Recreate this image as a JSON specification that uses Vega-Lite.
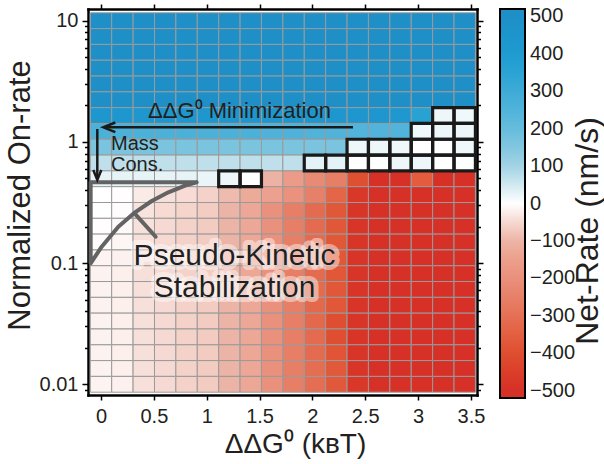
{
"$schema":"https://vega.github.io/schema/vega-lite/v6.json",
"width":389,"height":386,
"autosize":{"type":"none"},
"padding":{"left":88,"top":9,"right":127,"bottom":69},
"background":"white",
"config":{"view":{"stroke":null},"font":"Liberation Sans",
"axis":{"domainColor":"#000000","domainWidth":2.5,"domainCap":"square","tickColor":"#000000","tickWidth":1.5,"labelFontSize":20,"labelColor":"#231f20","titleFontWeight":"normal","titleColor":"#231f20","grid":false,"labelFont":"Liberation Sans","titleFont":"Liberation Sans","labelFlush":false,"labelOverlap":false},
"text":{"font":"Liberation Sans","color":"#231f20"}},
"datasets":{
"cells":[
{"x":0,"y":10,"v":500},{"x":0.2024,"y":10,"v":500},{"x":0.4048,"y":10,"v":500},{"x":0.6072,"y":10,"v":500},{"x":0.8096,"y":10,"v":500},{"x":1.012,"y":10,"v":500},{"x":1.2144,"y":10,"v":500},{"x":1.4168,"y":10,"v":500},{"x":1.6192,"y":10,"v":500},{"x":1.8216,"y":10,"v":500},{"x":2.024,"y":10,"v":500},{"x":2.2264,"y":10,"v":500},{"x":2.4288,"y":10,"v":500},{"x":2.6312,"y":10,"v":500},{"x":2.8336,"y":10,"v":500},{"x":3.036,"y":10,"v":500},{"x":3.2384,"y":10,"v":500},{"x":3.4408,"y":10,"v":500},
{"x":0,"y":7.406,"v":500},{"x":0.2024,"y":7.406,"v":500},{"x":0.4048,"y":7.406,"v":500},{"x":0.6072,"y":7.406,"v":500},{"x":0.8096,"y":7.406,"v":500},{"x":1.012,"y":7.406,"v":500},{"x":1.2144,"y":7.406,"v":500},{"x":1.4168,"y":7.406,"v":500},{"x":1.6192,"y":7.406,"v":500},{"x":1.8216,"y":7.406,"v":500},{"x":2.024,"y":7.406,"v":500},{"x":2.2264,"y":7.406,"v":500},{"x":2.4288,"y":7.406,"v":500},{"x":2.6312,"y":7.406,"v":500},{"x":2.8336,"y":7.406,"v":500},{"x":3.036,"y":7.406,"v":500},{"x":3.2384,"y":7.406,"v":500},{"x":3.4408,"y":7.406,"v":500},
{"x":0,"y":5.484,"v":500},{"x":0.2024,"y":5.484,"v":500},{"x":0.4048,"y":5.484,"v":500},{"x":0.6072,"y":5.484,"v":500},{"x":0.8096,"y":5.484,"v":500},{"x":1.012,"y":5.484,"v":500},{"x":1.2144,"y":5.484,"v":500},{"x":1.4168,"y":5.484,"v":500},{"x":1.6192,"y":5.484,"v":500},{"x":1.8216,"y":5.484,"v":500},{"x":2.024,"y":5.484,"v":500},{"x":2.2264,"y":5.484,"v":500},{"x":2.4288,"y":5.484,"v":500},{"x":2.6312,"y":5.484,"v":500},{"x":2.8336,"y":5.484,"v":500},{"x":3.036,"y":5.484,"v":500},{"x":3.2384,"y":5.484,"v":500},{"x":3.4408,"y":5.484,"v":500},
{"x":0,"y":4.062,"v":500},{"x":0.2024,"y":4.062,"v":500},{"x":0.4048,"y":4.062,"v":500},{"x":0.6072,"y":4.062,"v":500},{"x":0.8096,"y":4.062,"v":500},{"x":1.012,"y":4.062,"v":500},{"x":1.2144,"y":4.062,"v":500},{"x":1.4168,"y":4.062,"v":500},{"x":1.6192,"y":4.062,"v":500},{"x":1.8216,"y":4.062,"v":500},{"x":2.024,"y":4.062,"v":500},{"x":2.2264,"y":4.062,"v":500},{"x":2.4288,"y":4.062,"v":500},{"x":2.6312,"y":4.062,"v":500},{"x":2.8336,"y":4.062,"v":500},{"x":3.036,"y":4.062,"v":500},{"x":3.2384,"y":4.062,"v":500},{"x":3.4408,"y":4.062,"v":500},
{"x":0,"y":3.008,"v":500},{"x":0.2024,"y":3.008,"v":500},{"x":0.4048,"y":3.008,"v":500},{"x":0.6072,"y":3.008,"v":500},{"x":0.8096,"y":3.008,"v":500},{"x":1.012,"y":3.008,"v":500},{"x":1.2144,"y":3.008,"v":500},{"x":1.4168,"y":3.008,"v":500},{"x":1.6192,"y":3.008,"v":500},{"x":1.8216,"y":3.008,"v":500},{"x":2.024,"y":3.008,"v":500},{"x":2.2264,"y":3.008,"v":500},{"x":2.4288,"y":3.008,"v":500},{"x":2.6312,"y":3.008,"v":500},{"x":2.8336,"y":3.008,"v":500},{"x":3.036,"y":3.008,"v":500},{"x":3.2384,"y":3.008,"v":500},{"x":3.4408,"y":3.008,"v":500},
{"x":0,"y":2.228,"v":500},{"x":0.2024,"y":2.228,"v":500},{"x":0.4048,"y":2.228,"v":500},{"x":0.6072,"y":2.228,"v":500},{"x":0.8096,"y":2.228,"v":500},{"x":1.012,"y":2.228,"v":500},{"x":1.2144,"y":2.228,"v":500},{"x":1.4168,"y":2.228,"v":500},{"x":1.6192,"y":2.228,"v":500},{"x":1.8216,"y":2.228,"v":500},{"x":2.024,"y":2.228,"v":500},{"x":2.2264,"y":2.228,"v":500},{"x":2.4288,"y":2.228,"v":500},{"x":2.6312,"y":2.228,"v":500},{"x":2.8336,"y":2.228,"v":500},{"x":3.036,"y":2.228,"v":500},{"x":3.2384,"y":2.228,"v":500},{"x":3.4408,"y":2.228,"v":500},
{"x":0,"y":1.65,"v":430},{"x":0.2024,"y":1.65,"v":430},{"x":0.4048,"y":1.65,"v":430},{"x":0.6072,"y":1.65,"v":430},{"x":0.8096,"y":1.65,"v":430},{"x":1.012,"y":1.65,"v":430},{"x":1.2144,"y":1.65,"v":430},{"x":1.4168,"y":1.65,"v":430},{"x":1.6192,"y":1.65,"v":430},{"x":1.8216,"y":1.65,"v":430},{"x":2.024,"y":1.65,"v":430},{"x":2.2264,"y":1.65,"v":430},{"x":2.4288,"y":1.65,"v":430},{"x":2.6312,"y":1.65,"v":430},{"x":2.8336,"y":1.65,"v":425},{"x":3.036,"y":1.65,"v":360},{"x":3.2384,"y":1.65,"v":18,"b":1},{"x":3.4408,"y":1.65,"v":16,"b":1},
{"x":0,"y":1.222,"v":265},{"x":0.2024,"y":1.222,"v":265},{"x":0.4048,"y":1.222,"v":265},{"x":0.6072,"y":1.222,"v":265},{"x":0.8096,"y":1.222,"v":265},{"x":1.012,"y":1.222,"v":265},{"x":1.2144,"y":1.222,"v":265},{"x":1.4168,"y":1.222,"v":262},{"x":1.6192,"y":1.222,"v":255},{"x":1.8216,"y":1.222,"v":255},{"x":2.024,"y":1.222,"v":252},{"x":2.2264,"y":1.222,"v":250},{"x":2.4288,"y":1.222,"v":245},{"x":2.6312,"y":1.222,"v":245},{"x":2.8336,"y":1.222,"v":245},{"x":3.036,"y":1.222,"v":16,"b":1},{"x":3.2384,"y":1.222,"v":18,"b":1},{"x":3.4408,"y":1.222,"v":18,"b":1},
{"x":0,"y":0.9047,"v":165},{"x":0.2024,"y":0.9047,"v":165},{"x":0.4048,"y":0.9047,"v":165},{"x":0.6072,"y":0.9047,"v":165},{"x":0.8096,"y":0.9047,"v":165},{"x":1.012,"y":0.9047,"v":165},{"x":1.2144,"y":0.9047,"v":165},{"x":1.4168,"y":0.9047,"v":165},{"x":1.6192,"y":0.9047,"v":165},{"x":1.8216,"y":0.9047,"v":165},{"x":2.024,"y":0.9047,"v":165},{"x":2.2264,"y":0.9047,"v":165},{"x":2.4288,"y":0.9047,"v":18,"b":1},{"x":2.6312,"y":0.9047,"v":18,"b":1},{"x":2.8336,"y":0.9047,"v":16,"b":1},{"x":3.036,"y":0.9047,"v":0,"b":1},{"x":3.2384,"y":0.9047,"v":0,"b":1},{"x":3.4408,"y":0.9047,"v":16,"b":1},
{"x":0,"y":0.67,"v":68},{"x":0.2024,"y":0.67,"v":68},{"x":0.4048,"y":0.67,"v":68},{"x":0.6072,"y":0.67,"v":68},{"x":0.8096,"y":0.67,"v":68},{"x":1.012,"y":0.67,"v":68},{"x":1.2144,"y":0.67,"v":68},{"x":1.4168,"y":0.67,"v":68},{"x":1.6192,"y":0.67,"v":68},{"x":1.8216,"y":0.67,"v":68},{"x":2.024,"y":0.67,"v":27,"b":1},{"x":2.2264,"y":0.67,"v":27,"b":1},{"x":2.4288,"y":0.67,"v":0,"b":1},{"x":2.6312,"y":0.67,"v":0,"b":1},{"x":2.8336,"y":0.67,"v":18,"b":1},{"x":3.036,"y":0.67,"v":18,"b":1},{"x":3.2384,"y":0.67,"v":0,"b":1},{"x":3.4408,"y":0.67,"v":0,"b":1},
{"x":0,"y":0.4962,"v":25},{"x":0.2024,"y":0.4962,"v":25},{"x":0.4048,"y":0.4962,"v":25},{"x":0.6072,"y":0.4962,"v":25},{"x":0.8096,"y":0.4962,"v":25},{"x":1.012,"y":0.4962,"v":22},{"x":1.2144,"y":0.4962,"v":18,"b":1},{"x":1.4168,"y":0.4962,"v":0,"b":1},{"x":1.6192,"y":0.4962,"v":-102},{"x":1.8216,"y":0.4962,"v":-163},{"x":2.024,"y":0.4962,"v":-219},{"x":2.2264,"y":0.4962,"v":-256},{"x":2.4288,"y":0.4962,"v":-397},{"x":2.6312,"y":0.4962,"v":-495},{"x":2.8336,"y":0.4962,"v":-495},{"x":3.036,"y":0.4962,"v":-359},{"x":3.2384,"y":0.4962,"v":-500},{"x":3.4408,"y":0.4962,"v":-500},
{"x":0,"y":0.3675,"v":0},{"x":0.2024,"y":0.3675,"v":-2},{"x":0.4048,"y":0.3675,"v":-22},{"x":0.6072,"y":0.3675,"v":-37},{"x":0.8096,"y":0.3675,"v":-45},{"x":1.012,"y":0.3675,"v":-58},{"x":1.2144,"y":0.3675,"v":-90},{"x":1.4168,"y":0.3675,"v":-125},{"x":1.6192,"y":0.3675,"v":-148},{"x":1.8216,"y":0.3675,"v":-195},{"x":2.024,"y":0.3675,"v":-250},{"x":2.2264,"y":0.3675,"v":-332},{"x":2.4288,"y":0.3675,"v":-472},{"x":2.6312,"y":0.3675,"v":-500},{"x":2.8336,"y":0.3675,"v":-500},{"x":3.036,"y":0.3675,"v":-500},{"x":3.2384,"y":0.3675,"v":-500},{"x":3.4408,"y":0.3675,"v":-500},
{"x":0,"y":0.2721,"v":0},{"x":0.2024,"y":0.2721,"v":-3},{"x":0.4048,"y":0.2721,"v":-33},{"x":0.6072,"y":0.2721,"v":-46},{"x":0.8096,"y":0.2721,"v":-56},{"x":1.012,"y":0.2721,"v":-67},{"x":1.2144,"y":0.2721,"v":-100},{"x":1.4168,"y":0.2721,"v":-131},{"x":1.6192,"y":0.2721,"v":-197},{"x":1.8216,"y":0.2721,"v":-253},{"x":2.024,"y":0.2721,"v":-315},{"x":2.2264,"y":0.2721,"v":-371},{"x":2.4288,"y":0.2721,"v":-483},{"x":2.6312,"y":0.2721,"v":-500},{"x":2.8336,"y":0.2721,"v":-500},{"x":3.036,"y":0.2721,"v":-500},{"x":3.2384,"y":0.2721,"v":-500},{"x":3.4408,"y":0.2721,"v":-500},
{"x":0,"y":0.2015,"v":-2},{"x":0.2024,"y":0.2015,"v":-6},{"x":0.4048,"y":0.2015,"v":-36},{"x":0.6072,"y":0.2015,"v":-48},{"x":0.8096,"y":0.2015,"v":-58},{"x":1.012,"y":0.2015,"v":-68},{"x":1.2144,"y":0.2015,"v":-100},{"x":1.4168,"y":0.2015,"v":-131},{"x":1.6192,"y":0.2015,"v":-197},{"x":1.8216,"y":0.2015,"v":-253},{"x":2.024,"y":0.2015,"v":-315},{"x":2.2264,"y":0.2015,"v":-371},{"x":2.4288,"y":0.2015,"v":-483},{"x":2.6312,"y":0.2015,"v":-500},{"x":2.8336,"y":0.2015,"v":-500},{"x":3.036,"y":0.2015,"v":-500},{"x":3.2384,"y":0.2015,"v":-500},{"x":3.4408,"y":0.2015,"v":-500},
{"x":0,"y":0.1493,"v":-4},{"x":0.2024,"y":0.1493,"v":-10},{"x":0.4048,"y":0.1493,"v":-37},{"x":0.6072,"y":0.1493,"v":-48},{"x":0.8096,"y":0.1493,"v":-58},{"x":1.012,"y":0.1493,"v":-68},{"x":1.2144,"y":0.1493,"v":-100},{"x":1.4168,"y":0.1493,"v":-131},{"x":1.6192,"y":0.1493,"v":-197},{"x":1.8216,"y":0.1493,"v":-253},{"x":2.024,"y":0.1493,"v":-315},{"x":2.2264,"y":0.1493,"v":-371},{"x":2.4288,"y":0.1493,"v":-483},{"x":2.6312,"y":0.1493,"v":-500},{"x":2.8336,"y":0.1493,"v":-500},{"x":3.036,"y":0.1493,"v":-500},{"x":3.2384,"y":0.1493,"v":-500},{"x":3.4408,"y":0.1493,"v":-500},
{"x":0,"y":0.1105,"v":-12},{"x":0.2024,"y":0.1105,"v":-15},{"x":0.4048,"y":0.1105,"v":-37},{"x":0.6072,"y":0.1105,"v":-48},{"x":0.8096,"y":0.1105,"v":-58},{"x":1.012,"y":0.1105,"v":-68},{"x":1.2144,"y":0.1105,"v":-100},{"x":1.4168,"y":0.1105,"v":-131},{"x":1.6192,"y":0.1105,"v":-197},{"x":1.8216,"y":0.1105,"v":-253},{"x":2.024,"y":0.1105,"v":-315},{"x":2.2264,"y":0.1105,"v":-371},{"x":2.4288,"y":0.1105,"v":-483},{"x":2.6312,"y":0.1105,"v":-500},{"x":2.8336,"y":0.1105,"v":-500},{"x":3.036,"y":0.1105,"v":-500},{"x":3.2384,"y":0.1105,"v":-500},{"x":3.4408,"y":0.1105,"v":-500},
{"x":0,"y":0.08186,"v":-14},{"x":0.2024,"y":0.08186,"v":-17},{"x":0.4048,"y":0.08186,"v":-37},{"x":0.6072,"y":0.08186,"v":-48},{"x":0.8096,"y":0.08186,"v":-58},{"x":1.012,"y":0.08186,"v":-68},{"x":1.2144,"y":0.08186,"v":-100},{"x":1.4168,"y":0.08186,"v":-131},{"x":1.6192,"y":0.08186,"v":-197},{"x":1.8216,"y":0.08186,"v":-253},{"x":2.024,"y":0.08186,"v":-315},{"x":2.2264,"y":0.08186,"v":-375},{"x":2.4288,"y":0.08186,"v":-483},{"x":2.6312,"y":0.08186,"v":-500},{"x":2.8336,"y":0.08186,"v":-500},{"x":3.036,"y":0.08186,"v":-500},{"x":3.2384,"y":0.08186,"v":-500},{"x":3.4408,"y":0.08186,"v":-500},
{"x":0,"y":0.06062,"v":-14},{"x":0.2024,"y":0.06062,"v":-17},{"x":0.4048,"y":0.06062,"v":-37},{"x":0.6072,"y":0.06062,"v":-48},{"x":0.8096,"y":0.06062,"v":-58},{"x":1.012,"y":0.06062,"v":-68},{"x":1.2144,"y":0.06062,"v":-100},{"x":1.4168,"y":0.06062,"v":-131},{"x":1.6192,"y":0.06062,"v":-197},{"x":1.8216,"y":0.06062,"v":-253},{"x":2.024,"y":0.06062,"v":-315},{"x":2.2264,"y":0.06062,"v":-375},{"x":2.4288,"y":0.06062,"v":-483},{"x":2.6312,"y":0.06062,"v":-500},{"x":2.8336,"y":0.06062,"v":-500},{"x":3.036,"y":0.06062,"v":-500},{"x":3.2384,"y":0.06062,"v":-500},{"x":3.4408,"y":0.06062,"v":-500},
{"x":0,"y":0.04489,"v":-14},{"x":0.2024,"y":0.04489,"v":-17},{"x":0.4048,"y":0.04489,"v":-37},{"x":0.6072,"y":0.04489,"v":-48},{"x":0.8096,"y":0.04489,"v":-58},{"x":1.012,"y":0.04489,"v":-68},{"x":1.2144,"y":0.04489,"v":-100},{"x":1.4168,"y":0.04489,"v":-131},{"x":1.6192,"y":0.04489,"v":-197},{"x":1.8216,"y":0.04489,"v":-253},{"x":2.024,"y":0.04489,"v":-322},{"x":2.2264,"y":0.04489,"v":-375},{"x":2.4288,"y":0.04489,"v":-483},{"x":2.6312,"y":0.04489,"v":-500},{"x":2.8336,"y":0.04489,"v":-500},{"x":3.036,"y":0.04489,"v":-500},{"x":3.2384,"y":0.04489,"v":-500},{"x":3.4408,"y":0.04489,"v":-500},
{"x":0,"y":0.03325,"v":-14},{"x":0.2024,"y":0.03325,"v":-17},{"x":0.4048,"y":0.03325,"v":-37},{"x":0.6072,"y":0.03325,"v":-48},{"x":0.8096,"y":0.03325,"v":-58},{"x":1.012,"y":0.03325,"v":-68},{"x":1.2144,"y":0.03325,"v":-100},{"x":1.4168,"y":0.03325,"v":-131},{"x":1.6192,"y":0.03325,"v":-197},{"x":1.8216,"y":0.03325,"v":-253},{"x":2.024,"y":0.03325,"v":-325},{"x":2.2264,"y":0.03325,"v":-400},{"x":2.4288,"y":0.03325,"v":-483},{"x":2.6312,"y":0.03325,"v":-500},{"x":2.8336,"y":0.03325,"v":-500},{"x":3.036,"y":0.03325,"v":-500},{"x":3.2384,"y":0.03325,"v":-500},{"x":3.4408,"y":0.03325,"v":-500},
{"x":0,"y":0.02462,"v":-14},{"x":0.2024,"y":0.02462,"v":-17},{"x":0.4048,"y":0.02462,"v":-37},{"x":0.6072,"y":0.02462,"v":-48},{"x":0.8096,"y":0.02462,"v":-58},{"x":1.012,"y":0.02462,"v":-68},{"x":1.2144,"y":0.02462,"v":-100},{"x":1.4168,"y":0.02462,"v":-131},{"x":1.6192,"y":0.02462,"v":-197},{"x":1.8216,"y":0.02462,"v":-253},{"x":2.024,"y":0.02462,"v":-315},{"x":2.2264,"y":0.02462,"v":-400},{"x":2.4288,"y":0.02462,"v":-483},{"x":2.6312,"y":0.02462,"v":-500},{"x":2.8336,"y":0.02462,"v":-500},{"x":3.036,"y":0.02462,"v":-500},{"x":3.2384,"y":0.02462,"v":-500},{"x":3.4408,"y":0.02462,"v":-500},
{"x":0,"y":0.01823,"v":-14},{"x":0.2024,"y":0.01823,"v":-17},{"x":0.4048,"y":0.01823,"v":-37},{"x":0.6072,"y":0.01823,"v":-48},{"x":0.8096,"y":0.01823,"v":-58},{"x":1.012,"y":0.01823,"v":-68},{"x":1.2144,"y":0.01823,"v":-100},{"x":1.4168,"y":0.01823,"v":-131},{"x":1.6192,"y":0.01823,"v":-197},{"x":1.8216,"y":0.01823,"v":-253},{"x":2.024,"y":0.01823,"v":-315},{"x":2.2264,"y":0.01823,"v":-380},{"x":2.4288,"y":0.01823,"v":-483},{"x":2.6312,"y":0.01823,"v":-500},{"x":2.8336,"y":0.01823,"v":-500},{"x":3.036,"y":0.01823,"v":-500},{"x":3.2384,"y":0.01823,"v":-500},{"x":3.4408,"y":0.01823,"v":-500},
{"x":0,"y":0.0135,"v":-14},{"x":0.2024,"y":0.0135,"v":-17},{"x":0.4048,"y":0.0135,"v":-37},{"x":0.6072,"y":0.0135,"v":-48},{"x":0.8096,"y":0.0135,"v":-58},{"x":1.012,"y":0.0135,"v":-68},{"x":1.2144,"y":0.0135,"v":-100},{"x":1.4168,"y":0.0135,"v":-131},{"x":1.6192,"y":0.0135,"v":-197},{"x":1.8216,"y":0.0135,"v":-253},{"x":2.024,"y":0.0135,"v":-310},{"x":2.2264,"y":0.0135,"v":-370},{"x":2.4288,"y":0.0135,"v":-483},{"x":2.6312,"y":0.0135,"v":-500},{"x":2.8336,"y":0.0135,"v":-500},{"x":3.036,"y":0.0135,"v":-500},{"x":3.2384,"y":0.0135,"v":-500},{"x":3.4408,"y":0.0135,"v":-500},
{"x":0,"y":0.01,"v":-12},{"x":0.2024,"y":0.01,"v":-15},{"x":0.4048,"y":0.01,"v":-37},{"x":0.6072,"y":0.01,"v":-48},{"x":0.8096,"y":0.01,"v":-58},{"x":1.012,"y":0.01,"v":-68},{"x":1.2144,"y":0.01,"v":-100},{"x":1.4168,"y":0.01,"v":-131},{"x":1.6192,"y":0.01,"v":-197},{"x":1.8216,"y":0.01,"v":-253},{"x":2.024,"y":0.01,"v":-310},{"x":2.2264,"y":0.01,"v":-370},{"x":2.4288,"y":0.01,"v":-475},{"x":2.6312,"y":0.01,"v":-500},{"x":2.8336,"y":0.01,"v":-500},{"x":3.036,"y":0.01,"v":-500},{"x":3.2384,"y":0.01,"v":-500},{"x":3.4408,"y":0.01,"v":-500}
],
"lines":[
{"g":"loop","k":0,"x":0.905,"y":0.4642},{"g":"loop","k":1,"x":-0.098,"y":0.4642},{"g":"loop","k":2,"x":-0.098,"y":0.0996},{"g":"loop","k":3,"x":0.0066,"y":0.1366},{"g":"loop","k":4,"x":0.164,"y":0.1997},{"g":"loop","k":5,"x":0.322,"y":0.2625},{"g":"loop","k":6,"x":0.48,"y":0.3254},{"g":"loop","k":7,"x":0.637,"y":0.3838},{"g":"loop","k":8,"x":0.795,"y":0.4351},{"g":"loop","k":9,"x":0.905,"y":0.4642},
{"g":"branch","k":0,"x":0.322,"y":0.255},{"g":"branch","k":1,"x":0.517,"y":0.165},
{"g":"h","k":0,"x":2.384,"y":1.32},{"g":"h","k":1,"x":0.03,"y":1.32},
{"g":"v","k":0,"x":-0.035,"y":1.278},{"g":"v","k":1,"x":-0.035,"y":0.5}
],
"one":[{"id":1}]},
"resolve":{"axis":{"x":"independent","y":"independent"}},
"layer":[
{"data":{"name":"cells"},
 "mark":{"type":"point","shape":"M-1,-0.7391L1,-0.7391L1,0.7391L-1,0.7391Z","size":457.5,"filled":true,"opacity":1,"stroke":"#9a9a9a","strokeWidth":1},
 "encoding":{
  "x":{"field":"x","type":"quantitative","scale":{"domain":[-0.123,3.557],"nice":false,"zero":false},
   "axis":{"orient":"bottom","values":[0,0.5,1,1.5,2,2.5,3,3.5],"format":"~g","tickSize":5,"labelPadding":6,"title":"ΔΔG⁰ (kʙT)","titleFontSize":28,"titleX":207,"titleY":57,"titleBaseline":"alphabetic","titleAlign":"center"}},
  "y":{"field":"y","type":"quantitative","scale":{"type":"log","domain":[0.00816,12.49],"nice":false},
   "axis":{"orient":"left","values":[0.01,0.1,1,10],"format":"~g","tickSize":6,"labelPadding":4,"title":"Normalized On-rate","titleFontSize":31,"titleAngle":270,"titleX":-59,"titleY":186,"titleBaseline":"alphabetic","titleAlign":"center"}},
  "color":{"field":"v","type":"quantitative",
   "scale":{"domain":[-519,-500,-450,-400,-350,-300,-250,-200,-150,-100,-75,-50,-25,0,25,50,75,100,150,200,250,300,350,400,450,500,519],
    "range":["#d63027","#d63027","#db3e29","#df4e30","#e35f40","#e57055","#e78068","#ea907c","#ec9f8c","#ecb4a6","#f1c6bb","#f6d8d0","#fae8e3","#ffffff","#e6f4f8","#d0e9f1","#b8dde9","#a2d3e5","#82c7e0","#66bcdc","#50b3da","#3eabd7","#2aa3d4","#1f9bd0","#1c95cc","#1f8fc8","#1f8fc8"],"interpolate":"rgb"},
   "legend":{"orient":"right","offset":16,"padding":0,"direction":"vertical","gradientLength":389,"gradientThickness":25,"gradientStrokeColor":"#000000","gradientStrokeWidth":2,"values":[500,400,300,200,100,0,-100,-200,-300,-400,-500],"labelFontSize":20,"labelColor":"#231f20","labelOffset":5,"labelOverlap":false,"title":"Net-Rate (nm/s)","titleOrient":"right","titleFontSize":32,"titleFontWeight":"normal","titleColor":"#231f20","titleLimit":500,"titleAnchor":"middle","titlePadding":8,"encoding":{"title":{"angle":{"value":270},"dx":{"value":-27},"dy":{"value":22}}}}}
 }},
{"data":{"name":"cells"},"transform":[{"filter":"datum.b === 1"}],
 "mark":{"type":"point","shape":"M-1,-0.7391L1,-0.7391L1,0.7391L-1,0.7391Z","size":457.5,"filled":false,"opacity":1,"stroke":"#1a1a1a","strokeWidth":3.2},
 "encoding":{
  "x":{"field":"x","type":"quantitative","scale":{"domain":[-0.123,3.557],"nice":false,"zero":false},
   "axis":{"orient":"top","values":[0,0.5,1,1.5,2,2.5,3,3.5],"labels":false,"tickSize":5,"title":null}},
  "y":{"field":"y","type":"quantitative","scale":{"type":"log","domain":[0.00816,12.49],"nice":false},
   "axis":{"orient":"right","values":[0.01,0.1,1,10],"labels":false,"tickSize":6,"title":null}}
 }},
{"data":{"name":"lines"},"transform":[{"filter":"datum.g === 'loop' || datum.g === 'branch'"}],
 "mark":{"type":"line","color":"#636363","strokeWidth":4,"strokeCap":"round","strokeJoin":"round"},
 "encoding":{
  "x":{"field":"x","type":"quantitative","scale":{"domain":[-0.123,3.557],"nice":false,"zero":false},"axis":null},
  "y":{"field":"y","type":"quantitative","scale":{"type":"log","domain":[0.00816,12.49],"nice":false},
   "axis":{"orient":"left","values":[0.009,0.02,0.03,0.04,0.05,0.06,0.07,0.08,0.09,0.2,0.3,0.4,0.5,0.6,0.7,0.8,0.9,2,3,4,5,6,7,8,9],"labels":false,"domain":false,"tickSize":3.5,"title":null}},
  "detail":{"field":"g"},"order":{"field":"k","type":"quantitative"}
 }},
{"data":{"name":"lines"},"transform":[{"filter":"datum.g === 'h' || datum.g === 'v'"}],
 "mark":{"type":"line","color":"#1a1a1a","strokeWidth":2.5},
 "encoding":{
  "x":{"field":"x","type":"quantitative","scale":{"domain":[-0.123,3.557],"nice":false,"zero":false},"axis":null},
  "y":{"field":"y","type":"quantitative","scale":{"type":"log","domain":[0.00816,12.49],"nice":false},
   "axis":{"orient":"right","values":[0.009,0.02,0.03,0.04,0.05,0.06,0.07,0.08,0.09,0.2,0.3,0.4,0.5,0.6,0.7,0.8,0.9,2,3,4,5,6,7,8,9],"labels":false,"domain":false,"tickSize":3.5,"title":null}},
  "detail":{"field":"g"},"order":{"field":"k","type":"quantitative"}
 }},
{"data":{"name":"one"},
 "mark":{"type":"point","shape":"M1,-0.4L0,0L1,0.4","size":576,"filled":false,"opacity":1,"stroke":"#1a1a1a","strokeWidth":2.5},
 "encoding":{"x":{"datum":0.022,"type":"quantitative","scale":{"domain":[-0.123,3.557],"nice":false,"zero":false},"axis":null},
  "y":{"datum":1.32,"type":"quantitative","scale":{"type":"log","domain":[0.00816,12.49],"nice":false},"axis":null}}},
{"data":{"name":"one"},
 "mark":{"type":"point","shape":"M-0.4,-1L0,0L0.4,-1","size":400,"filled":false,"opacity":1,"stroke":"#1a1a1a","strokeWidth":2.5},
 "encoding":{"x":{"datum":-0.035,"type":"quantitative","scale":{"domain":[-0.123,3.557],"nice":false,"zero":false},"axis":null},
  "y":{"datum":0.4849,"type":"quantitative","scale":{"type":"log","domain":[0.00816,12.49],"nice":false},"axis":null}}},
{"data":{"name":"one"},
 "mark":{"type":"text","text":"ΔΔG⁰ Minimization","align":"left","baseline":"alphabetic","fontSize":22,"color":"#231f20"},
 "encoding":{"x":{"datum":0.445,"type":"quantitative","scale":{"domain":[-0.123,3.557],"nice":false,"zero":false},"axis":null},
  "y":{"datum":1.566,"type":"quantitative","scale":{"type":"log","domain":[0.00816,12.49],"nice":false},"axis":null}}},
{"data":{"name":"one"},
 "mark":{"type":"text","text":["Mass","Cons."],"lineHeight":21,"align":"left","baseline":"alphabetic","fontSize":20,"color":"#231f20"},
 "encoding":{"x":{"datum":0.095,"type":"quantitative","scale":{"domain":[-0.123,3.557],"nice":false,"zero":false},"axis":null},
  "y":{"datum":0.85,"type":"quantitative","scale":{"type":"log","domain":[0.00816,12.49],"nice":false},"axis":null}}},
{"data":{"name":"one"},
 "mark":{"type":"text","text":["Pseudo-Kinetic","Stabilization"],"lineHeight":32,"align":"center","baseline":"alphabetic","fontSize":30,"color":"white","stroke":"white","strokeWidth":10,"strokeOpacity":0.45,"strokeJoin":"round","opacity":1},
 "encoding":{"x":{"datum":1.263,"type":"quantitative","scale":{"domain":[-0.123,3.557],"nice":false,"zero":false},"axis":null},
  "y":{"datum":0.0964,"type":"quantitative","scale":{"type":"log","domain":[0.00816,12.49],"nice":false},"axis":null}}},
{"data":{"name":"one"},
 "mark":{"type":"text","text":["Pseudo-Kinetic","Stabilization"],"lineHeight":32,"align":"center","baseline":"alphabetic","fontSize":30,"color":"#231f20"},
 "encoding":{"x":{"datum":1.263,"type":"quantitative","scale":{"domain":[-0.123,3.557],"nice":false,"zero":false},"axis":null},
  "y":{"datum":0.0964,"type":"quantitative","scale":{"type":"log","domain":[0.00816,12.49],"nice":false},"axis":null}}}
]
}
